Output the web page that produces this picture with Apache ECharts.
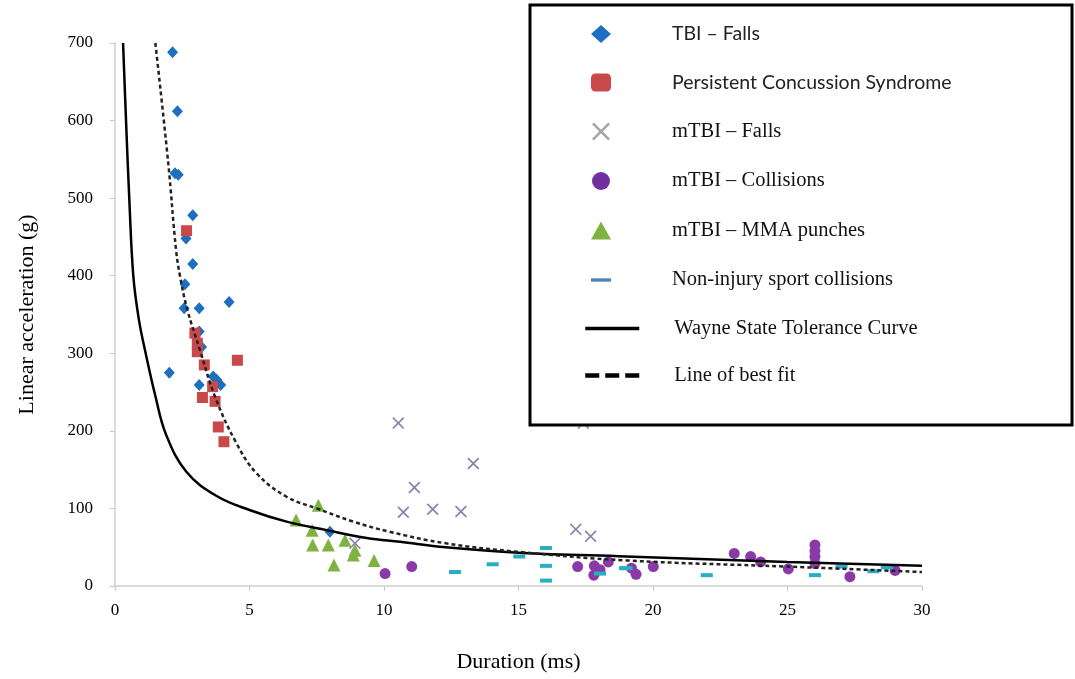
<!DOCTYPE html>
<html>
<head>
<meta charset="utf-8">
<script src="https://cdn.jsdelivr.net/npm/echarts@6/dist/echarts.min.js"></script>
<style>
  html, body { margin: 0; padding: 0; background: #fff; }
  #main { width: 1075px; height: 679px; }
</style>
</head>
<body>
<div id="main"></div>
<script>
// values: [duration ms, acceleration g]
var tbiFalls = [
  [2.14, 688], [2.32, 612], [2.23, 532], [2.35, 530], [2.89, 478], [2.64, 448],
  [2.89, 415], [2.6, 389], [2.57, 358], [3.13, 358], [4.24, 366], [2.02, 275],
  [3.13, 328], [3.22, 308], [3.65, 270], [3.78, 266], [3.93, 259], [3.13, 259],
  [7.99, 70]
];
var pcs = [
  [2.66, 458], [2.97, 326], [3.06, 313], [3.06, 302], [3.32, 285], [4.55, 291],
  [3.63, 257], [3.25, 243], [3.72, 238], [3.84, 205], [4.05, 186]
];
var mtbiFalls = [
  [10.53, 210], [13.32, 158], [11.13, 127], [10.72, 95], [11.81, 99], [12.86, 96],
  [17.13, 73], [17.68, 64], [8.92, 55], [17.41, 210]
];
var mtbiCollisions = [
  [10.04, 16], [11.03, 25], [17.2, 25], [17.82, 26], [18.03, 21], [17.8, 14],
  [18.34, 31], [19.2, 23], [19.37, 15], [20.01, 25], [23.02, 42], [23.63, 38],
  [24.0, 31], [25.03, 22], [26.02, 53], [26.02, 45], [26.02, 38], [26.02, 29],
  [27.32, 12], [29.0, 20]
];
var mmaPunches = [
  [6.73, 85], [7.56, 104], [7.33, 72], [7.35, 53], [7.93, 53], [8.55, 59],
  [8.92, 46], [8.86, 40], [8.14, 27], [9.63, 33]
];
var nonInjury = [
  [12.64, 18], [14.04, 28], [15.03, 38], [16.02, 49], [16.02, 26], [16.02, 7],
  [18.03, 16], [19.02, 23], [18.96, 23], [22.0, 14], [26.02, 14], [27.01, 25],
  [28.19, 19], [28.69, 24]
];
var wayneState = [
  [0.3, 700], [0.41, 600], [0.53, 500], [0.68, 400], [0.88, 345], [1.14, 300],
  [1.5, 245], [1.9, 195], [2.66, 147], [3.78, 116], [5.0, 98],
  [6.38, 83], [7.87, 72], [9.36, 62], [10.6, 57], [12.3, 50], [15, 43],
  [19, 38], [25, 31], [30, 26]
];
var bestFit = [
  [1.5, 700], [1.98, 545], [2.27, 433], [2.42, 399], [2.69, 356], [3.16, 304],
  [3.72, 244], [4.5, 185], [5.27, 145], [6.38, 115], [7.5, 100], [8.86, 83],
  [10.2, 70], [12.3, 55], [15, 44], [19, 33], [25, 25], [30, 18]
];
var xTicks = { min: 0, max: 30, interval: 5 };
var yTicks = { min: 0, max: 700, interval: 100 };

var serif = 'Liberation Serif';
var crossPath = 'path://M0,1 L1,0 L5,4 L9,0 L10,1 L6,5 L10,9 L9,10 L5,6 L1,10 L0,9 L4,5 Z';
var dashPath = 'path://M0,0 H18 V3 H0 Z';
var sansNames = ['TBI – Falls', 'Persistent Concussion Syndrome'];

function legendText(name) {
  return sansNames.indexOf(name) >= 0 ? '{s|' + name + '}' : '{t|' + name + '}';
}

var myChart = echarts.init(document.getElementById('main'));
var option = {
  backgroundColor: '#fff',
  animation: false,
  grid: { left: 115, right: 153, top: 43, bottom: 93 },
  graphic: [{
    type: 'rect', z: 10,
    shape: { x: 530, y: 5, width: 542, height: 420 },
    style: { fill: '#fff', stroke: '#000', lineWidth: 3 }
  }],
  legend: [{
    z: 20, orient: 'vertical', left: 586, top: 19,
    itemWidth: 20, itemHeight: 18, itemGap: 28.5,
    formatter: legendText,
    textStyle: {
      rich: {
        s: { fontFamily: 'Lato', fontSize: 19.5, color: '#222', padding: [0, 0, 0, 56], lineHeight: 18 },
        t: { fontFamily: serif, fontSize: 20.5, color: '#111', padding: [0, 0, 0, 56], lineHeight: 18 }
      }
    },
    data: [
      { name: 'TBI – Falls', icon: 'diamond' },
      { name: 'Persistent Concussion Syndrome', icon: 'roundRect' },
      { name: 'mTBI – Falls', icon: crossPath, itemStyle: { color: '#a6a6a6' } },
      { name: 'mTBI – Collisions', icon: 'circle', itemStyle: { color: '#7030a0' } },
      { name: 'mTBI – MMA punches', icon: 'triangle' },
      { name: 'Non-injury sport collisions', icon: dashPath, itemStyle: { color: '#4f81bd' } }
    ]
  }, {
    z: 20, orient: 'vertical', left: 578, top: 313,
    itemWidth: 54, itemHeight: 18, itemGap: 26,
    formatter: legendText,
    textStyle: {
      rich: {
        t: { fontFamily: serif, fontSize: 20.5, color: '#111', padding: [0, 0, 0, 30], lineHeight: 18 }
      }
    },
    data: [
      { name: 'Wayne State Tolerance Curve', itemStyle: { opacity: 0 },
        lineStyle: { color: '#000', width: 3.5, type: 'solid' } },
      { name: 'Line of best fit', itemStyle: { opacity: 0 },
        lineStyle: { color: '#000', width: 4.5, type: [14, 6] } }
    ]
  }],
  xAxis: {
    type: 'value', min: xTicks.min, max: xTicks.max, interval: xTicks.interval,
    name: 'Duration (ms)', nameLocation: 'middle', nameGap: 65,
    nameTextStyle: { fontFamily: serif, fontSize: 22, color: '#000' },
    axisLine: { lineStyle: { color: '#d0d0d0', width: 1.5 } },
    axisTick: { show: true, length: 5, lineStyle: { color: '#c8c8c8' } },
    axisLabel: { fontFamily: serif, fontSize: 17, color: '#000', margin: 16 },
    splitLine: { show: false }
  },
  yAxis: {
    type: 'value', min: yTicks.min, max: yTicks.max, interval: yTicks.interval,
    name: 'Linear acceleration (g)', nameLocation: 'middle', nameGap: 77,
    nameTextStyle: { fontFamily: serif, fontSize: 22, color: '#000' },
    axisLine: { show: true, lineStyle: { color: '#d0d0d0', width: 1.5 } },
    axisTick: { show: true, length: 5, lineStyle: { color: '#c8c8c8' } },
    axisLabel: { fontFamily: serif, fontSize: 17, color: '#000', margin: 22 },
    splitLine: { show: false }
  },
  series: [
    { name: 'TBI – Falls', type: 'scatter', data: tbiFalls, symbol: 'diamond', symbolSize: [11, 12],
      itemStyle: { color: '#1f6fc0', opacity: 1 } },
    { name: 'Persistent Concussion Syndrome', type: 'scatter', data: pcs, symbol: 'rect', symbolSize: 11,
      itemStyle: { color: '#c9494a', opacity: 1 } },
    { name: 'mTBI – Falls', type: 'scatter', data: mtbiFalls, symbol: crossPath, symbolSize: 12,
      itemStyle: { color: '#8a82ad', opacity: 1 } },
    { name: 'mTBI – Collisions', type: 'scatter', data: mtbiCollisions, symbol: 'circle', symbolSize: 11,
      itemStyle: { color: '#8a3aa6', opacity: 1 } },
    { name: 'mTBI – MMA punches', type: 'scatter', data: mmaPunches, symbol: 'triangle', symbolSize: [13, 13],
      itemStyle: { color: '#7fb241', opacity: 1 } },
    { name: 'Non-injury sport collisions', type: 'scatter', data: nonInjury, symbol: 'rect', symbolSize: [12, 4],
      itemStyle: { color: '#2aaec2', opacity: 1 } },
    { name: 'Wayne State Tolerance Curve', type: 'line', data: wayneState, smooth: 0.4,
      symbol: 'none', lineStyle: { color: '#000', width: 2.5 }, itemStyle: { color: '#000' } },
    { name: 'Line of best fit', type: 'line', data: bestFit, smooth: 0.4,
      symbol: 'none', lineStyle: { color: '#222', width: 2.5, type: [4, 3] }, itemStyle: { color: '#000' } }
  ]
};
myChart.setOption(option);
</script>
</body>
</html>
